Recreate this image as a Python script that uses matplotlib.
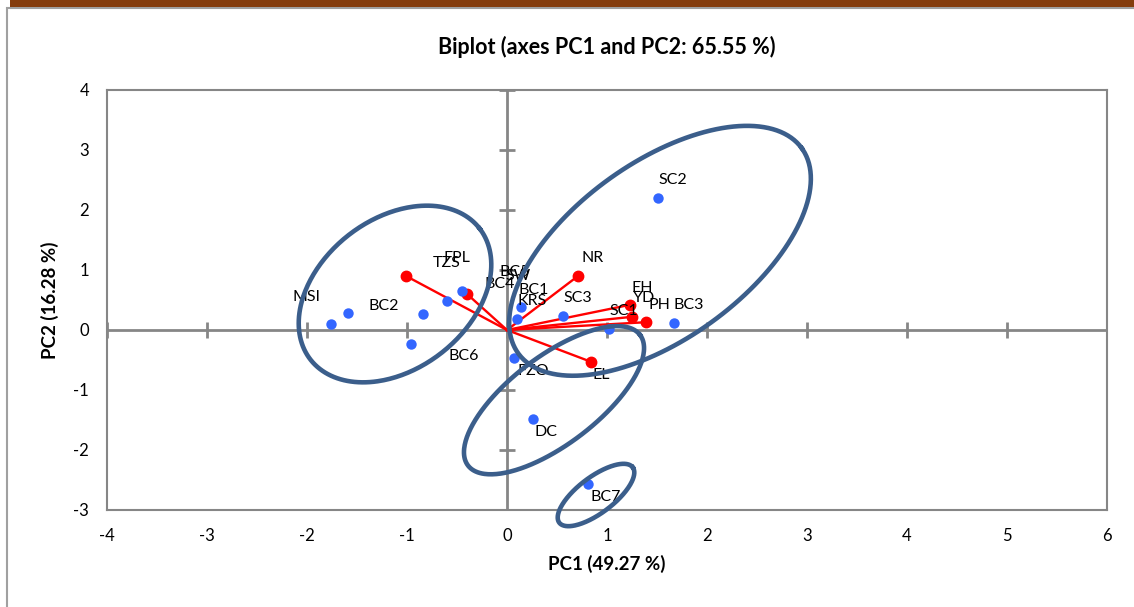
import numpy as np
import matplotlib.pyplot as plt
from matplotlib.patches import Rectangle

plt.rcParams['font.family'] = ['Lato', 'DejaVu Sans']
plt.rcParams['axes.unicode_minus'] = False

# observations (PC1, PC2 scores)
obs_names = ['MSI', 'BC2', 'BC4', 'BC6', 'TZS', 'BC5', 'BC1', 'KRS', 'SC3',
             'SC1', 'BC3', 'SC2', 'FZO', 'DC', 'BC7']
obs_pc1 = [-1.76, -1.59, -0.84, -0.96, -0.60, -0.45, 0.14, 0.10, 0.56,
           1.02, 1.67, 1.51, 0.07, 0.26, 0.81]
obs_pc2 = [0.10, 0.28, 0.27, -0.23, 0.48, 0.65, 0.38, 0.18, 0.23,
           0.02, 0.12, 2.20, -0.47, -1.48, -2.57]

# variables (loadings)
var_names = ['FPL', 'SW', 'NR', 'EH', 'YD', 'PH', 'EL']
var_pc1 = [-1.01, -0.40, 0.71, 1.23, 1.25, 1.39, 0.84]
var_pc2 = [0.90, 0.60, 0.90, 0.42, 0.22, 0.13, -0.53]

# group ellipses: centre in data units
ell_pc1 = [-1.12, 1.53, 0.47, 0.89]
ell_pc2 = [0.60, 1.32, -1.17, -2.75]

xticks = list(range(-4, 7))
yticks = list(range(-3, 5))

# label offsets (pixels) - most sit up/right, a few were moved by hand
lab_off = {'MSI': (-24, 27), 'BC2': (36, 7), 'BC4': (77, 30), 'BC6': (53, -12),
           'TZS': (0, 38), 'BC5': (53, 19), 'FPL': (51, 18), 'SW': (51, 18),
           'BC1': (13, 17), 'FZO': (19, -13), 'DC': (13, -13), 'BC7': (18, -13),
           'EL': (10, -13), 'EH': (12, 17), 'YD': (12, 19), 'PH': (13, 17)}
# ellipse shape in pixels: semi-major, semi-minor, angle
ell_shape = [(107, 75, 37.7), (175, 88, 35.9), (108, 44, 37.2), (46, 18, 37.0)]

gray = '#868686'
fig = plt.figure(figsize=(11.34, 6.07), dpi=100)
ax = fig.add_axes([107/1134, 97/607, 1000/1134, 420/607])
ax.set_xlim(-4, 6)
ax.set_ylim(-3, 4)

for s in ax.spines.values():
    s.set_color(gray)
    s.set_linewidth(1.5)
ax.axhline(0, color=gray, lw=2, zorder=1)
ax.axvline(0, color=gray, lw=2, zorder=1)
ax.plot(xticks, np.zeros(len(xticks)), ls='none', marker='|', ms=12, mew=2, color=gray, zorder=1)
ax.plot(np.zeros(len(yticks)), yticks, ls='none', marker='_', ms=12, mew=2, color=gray, zorder=1)

ax.set_xticks(xticks)
ax.set_yticks(yticks)
ax.tick_params(length=0, labelsize=12, pad=13)

# variable vectors
for i in range(len(var_names)):
    ax.plot([0, var_pc1[i]], [0, var_pc2[i]], color='red', lw=1.7, zorder=2)
ax.plot(var_pc1, var_pc2, 'o', color='red', ms=7.5, zorder=3)
ax.plot(obs_pc1, obs_pc2, 'o', color='#3366FF', ms=7.5, mec='none', zorder=3)

names = obs_names + var_names
xs = obs_pc1 + var_pc1
ys = obs_pc2 + var_pc2
for n, x, y in zip(names, xs, ys):
    off = lab_off.get(n, (15, 18))
    ax.annotate(n, (x, y), xytext=off, textcoords='offset pixels',
                ha='center', va='center', fontsize=11.5, zorder=4)

# ellipses on top
fig.canvas.draw()
bb = ax.get_window_extent()
sx = bb.width / 10.0
sy = bb.height / 7.0
t = np.linspace(0, 2*np.pi, 300)
for cx, cy, (a, b, ang) in zip(ell_pc1, ell_pc2, ell_shape):
    th = np.radians(ang)
    px = a*np.cos(t)*np.cos(th) - b*np.sin(t)*np.sin(th)
    py = a*np.cos(t)*np.sin(th) + b*np.sin(t)*np.cos(th)
    ax.plot(cx + px/sx, cy + py/sy, color='#3B5E8B', lw=3.3, zorder=5, clip_on=False)

ax.set_title('Biplot (axes PC1 and PC2: 65.55 %)', fontsize=15.5, fontweight='bold', pad=26)
ax.set_xlabel('PC1 (49.27 %)', fontsize=13.5, fontweight='bold', labelpad=8)
ax.set_ylabel('PC2 (16.28 %)', fontsize=13.5, fontweight='bold', labelpad=10)

# outer frame and top band
fig.add_artist(Rectangle((7/1134, -0.1), 1.2, 1.1 - 8/607, transform=fig.transFigure,
                         fill=False, ec='#A0A0A0', lw=1.5))
fig.add_artist(Rectangle((10/1134, 1 - 7/607), 1, 7/607, transform=fig.transFigure,
                         color='#843C0C', lw=0))

fig.savefig('out.png', dpi=100)
